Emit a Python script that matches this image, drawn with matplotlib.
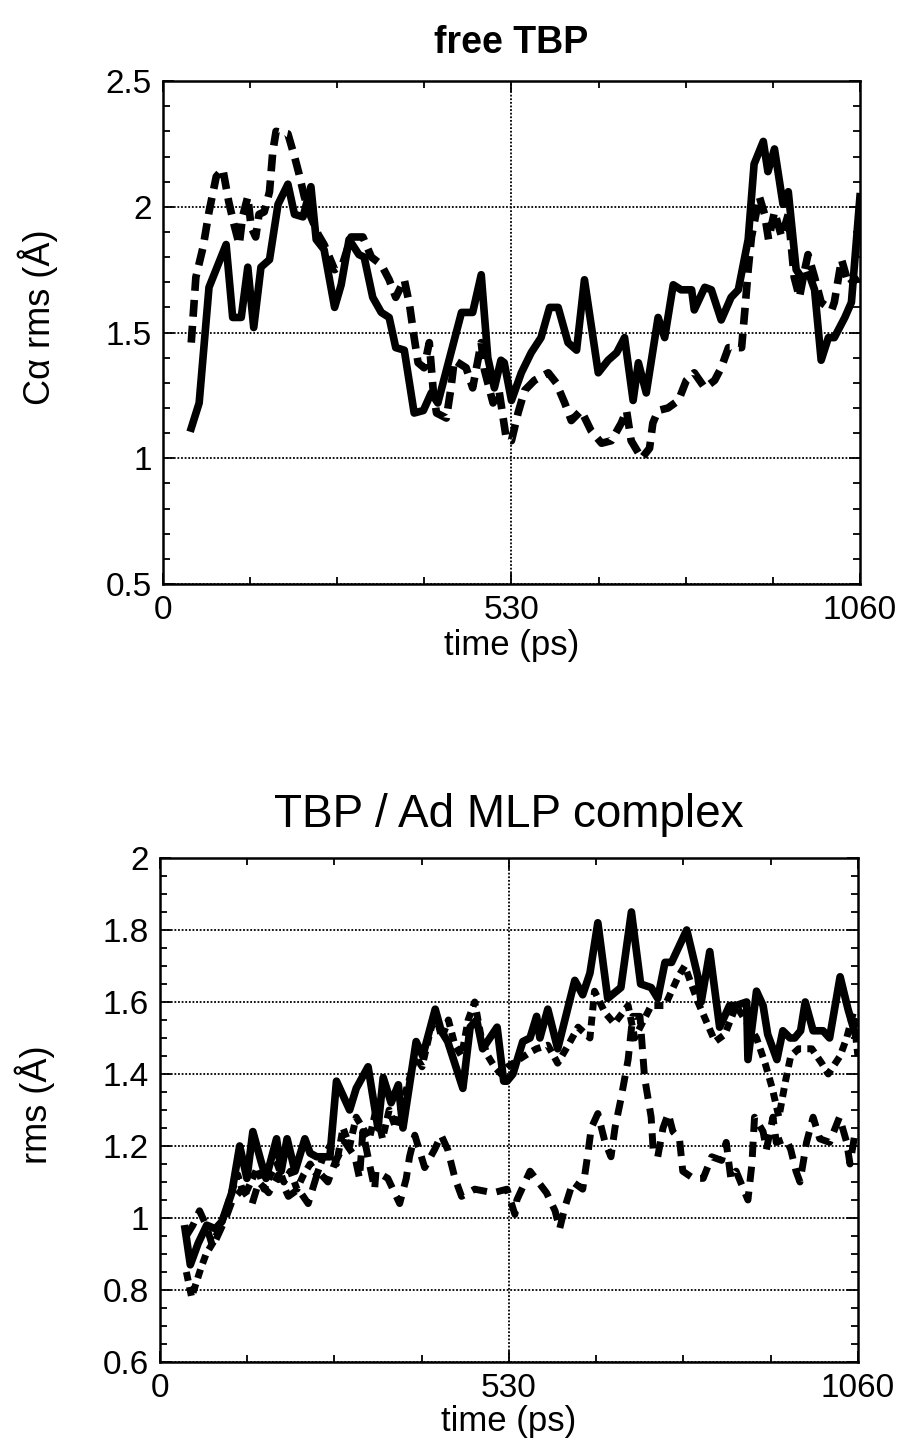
import matplotlib
matplotlib.use("Agg")
import matplotlib.pyplot as plt
from matplotlib.ticker import MultipleLocator

plt.rcParams['font.family'] = ['Liberation Sans', 'DejaVu Sans']

# free TBP, solid
free_t1 = [43, 55, 70, 96, 106, 119, 129, 138, 149, 162, 175, 190, 200, 213, 225,
           233, 245, 261, 271, 283, 298, 306, 319, 332, 344, 354, 367, 382, 396, 408,
           418, 454, 471, 484, 494, 504, 514, 519, 530, 545, 560, 575, 588, 601, 616,
           629, 641, 662, 677, 690, 702, 715, 723, 735, 753, 763, 776, 788, 804, 808,
           824, 834, 849, 864, 875, 890, 899, 913, 920, 930, 943, 951, 963, 971, 983,
           991, 1001, 1012, 1021, 1037, 1047, 1060]
free_v1 = [1.12, 1.22, 1.68, 1.85, 1.56, 1.56, 1.76, 1.52, 1.76, 1.79, 2.01, 2.09, 1.97, 1.96, 2.08,
           1.87, 1.83, 1.60, 1.69, 1.87, 1.81, 1.80, 1.64, 1.58, 1.56, 1.44, 1.43, 1.18, 1.19, 1.26,
           1.22, 1.58, 1.58, 1.73, 1.40, 1.28, 1.39, 1.38, 1.23, 1.34, 1.42, 1.48, 1.60, 1.60, 1.46,
           1.43, 1.71, 1.34, 1.39, 1.42, 1.48, 1.23, 1.38, 1.26, 1.56, 1.48, 1.69, 1.67, 1.67, 1.59,
           1.68, 1.67, 1.55, 1.64, 1.67, 1.87, 2.17, 2.26, 2.14, 2.23, 2.01, 2.06, 1.75, 1.72, 1.73,
           1.67, 1.39, 1.48, 1.48, 1.56, 1.62, 2.04]

# free TBP, dashed
free_t2 = [43, 50, 61, 70, 81, 91, 100, 108, 116, 121, 129, 134, 141, 146, 154,
           162, 167, 172, 190, 200, 207, 215, 225, 236, 245, 253, 261, 273, 286, 304,
           317, 332, 344, 354, 367, 375, 382, 388, 397, 405, 411, 416, 431, 438, 443,
           461, 471, 484, 489, 502, 511, 522, 530, 540, 550, 565, 586, 598, 611, 621,
           636, 651, 667, 682, 697, 705, 712, 728, 740, 745, 753, 768, 784, 796, 808,
           824, 839, 849, 860, 880, 885, 890, 895, 907, 915, 921, 930, 941, 951, 960,
           968, 976, 981, 991, 1001, 1017, 1021, 1032, 1043, 1058]
free_v2 = [1.46, 1.72, 1.84, 1.98, 2.12, 2.15, 2.02, 1.93, 1.85, 1.96, 2.04, 1.92, 1.88, 1.97, 1.98,
           2.06, 2.22, 2.30, 2.29, 2.20, 2.13, 2.04, 1.96, 1.89, 1.85, 1.80, 1.75, 1.77, 1.88, 1.88,
           1.80, 1.77, 1.71, 1.64, 1.71, 1.61, 1.48, 1.38, 1.36, 1.46, 1.27, 1.18, 1.16, 1.28, 1.39,
           1.36, 1.28, 1.46, 1.35, 1.22, 1.27, 1.08, 1.07, 1.18, 1.27, 1.31, 1.34, 1.30, 1.22, 1.15,
           1.19, 1.11, 1.06, 1.07, 1.14, 1.19, 1.07, 1.00, 1.04, 1.14, 1.19, 1.20, 1.23, 1.31, 1.34,
           1.28, 1.31, 1.36, 1.44, 1.44, 1.59, 1.75, 1.88, 2.04, 1.97, 1.87, 1.98, 1.88, 1.97, 1.72,
           1.64, 1.75, 1.81, 1.72, 1.62, 1.59, 1.62, 1.79, 1.69, 1.72]

# TBP / Ad MLP complex, solid
cplx_t1 = [38, 46, 58, 71, 84, 94, 109, 121, 132, 141, 153, 161, 177, 184, 193,
           205, 220, 228, 238, 258, 268, 278, 288, 298, 316, 331, 339, 351, 362, 369,
           384, 389, 399, 418, 427, 437, 460, 471, 481, 490, 512, 522, 527, 536, 551,
           562, 572, 577, 589, 604, 630, 642, 653, 665, 680, 700, 716, 730, 746, 756,
           767, 777, 800, 817, 822, 835, 850, 865, 875, 891, 893, 906, 916, 923, 937,
           946, 957, 964, 973, 980, 992, 1007, 1017, 1033, 1045, 1056]
cplx_v1 = [0.97, 0.87, 0.93, 0.98, 0.97, 0.99, 1.07, 1.20, 1.11, 1.24, 1.16, 1.11, 1.22, 1.13, 1.22,
           1.13, 1.22, 1.18, 1.17, 1.17, 1.38, 1.34, 1.30, 1.36, 1.42, 1.25, 1.39, 1.32, 1.37, 1.25,
           1.43, 1.49, 1.45, 1.58, 1.52, 1.49, 1.36, 1.53, 1.55, 1.47, 1.53, 1.38, 1.38, 1.40, 1.49,
           1.50, 1.56, 1.50, 1.58, 1.47, 1.66, 1.62, 1.68, 1.82, 1.61, 1.64, 1.85, 1.65, 1.64, 1.61,
           1.71, 1.71, 1.80, 1.67, 1.60, 1.74, 1.53, 1.59, 1.59, 1.60, 1.44, 1.63, 1.59, 1.51, 1.44,
           1.52, 1.50, 1.50, 1.52, 1.60, 1.52, 1.52, 1.50, 1.67, 1.58, 1.51]

# TBP / Ad MLP complex, short dashes
cplx_t2 = [40, 48, 55, 62, 70, 80, 90, 100, 110, 118, 128, 138, 148, 158, 168,
           178, 188, 198, 208, 218, 228, 238, 248, 258, 268, 278, 288, 298, 308, 318,
           328, 338, 348, 358, 368, 378, 388, 398, 408, 418, 428, 438, 448, 458, 468,
           478, 488, 498, 508, 518, 528, 545, 562, 572, 589, 604, 620, 635, 653, 660,
           676, 690, 711, 721, 746, 767, 787, 797, 817, 843, 858, 875, 906, 919, 930,
           940, 950, 958, 970, 990, 1005, 1015, 1033, 1043, 1053, 1060]
cplx_v2 = [0.85, 0.78, 0.82, 0.86, 0.90, 0.93, 0.97, 1.02, 1.08, 1.12, 1.06, 1.10, 1.14, 1.08, 1.12,
           1.15, 1.10, 1.13, 1.08, 1.12, 1.15, 1.12, 1.17, 1.20, 1.15, 1.25, 1.20, 1.28, 1.25, 1.22,
           1.30, 1.22, 1.30, 1.25, 1.32, 1.38, 1.45, 1.42, 1.50, 1.57, 1.50, 1.55, 1.48, 1.45, 1.55,
           1.60, 1.50, 1.45, 1.42, 1.40, 1.42, 1.44, 1.46, 1.47, 1.48, 1.43, 1.48, 1.53, 1.50, 1.63,
           1.57, 1.54, 1.59, 1.50, 1.59, 1.59, 1.67, 1.70, 1.60, 1.49, 1.51, 1.59, 1.50, 1.43, 1.36,
           1.28, 1.38, 1.45, 1.47, 1.47, 1.43, 1.40, 1.45, 1.50, 1.57, 1.45]

# TBP / Ad MLP complex, long dashes
cplx_t3 = [40, 50, 60, 70, 80, 90, 100, 110, 125, 140, 150, 165, 180, 195, 210,
           225, 240, 255, 265, 281, 296, 303, 308, 326, 328, 346, 364, 374, 379, 387,
           402, 417, 427, 437, 448, 458, 478, 506, 527, 539, 542, 562, 587, 600, 607,
           615, 627, 642, 650, 655, 665, 676, 685, 691, 700, 711, 718, 729, 736, 746,
           749, 756, 764, 772, 779, 789, 794, 810, 825, 838, 853, 860, 867, 875, 893,
           899, 903, 916, 921, 931, 936, 951, 958, 966, 972, 982, 992, 1002, 1017, 1032,
           1043, 1048, 1056]
cplx_v3 = [0.95, 0.98, 1.02, 0.98, 0.92, 0.96, 1.00, 1.05, 1.08, 1.04, 1.10, 1.07, 1.12, 1.06, 1.08,
           1.04, 1.13, 1.10, 1.15, 1.21, 1.17, 1.11, 1.24, 1.08, 1.13, 1.11, 1.04, 1.11, 1.17, 1.23,
           1.14, 1.19, 1.23, 1.19, 1.11, 1.06, 1.08, 1.07, 1.08, 1.01, 1.05, 1.13, 1.07, 1.02, 0.97,
           1.03, 1.10, 1.08, 1.18, 1.25, 1.29, 1.21, 1.17, 1.25, 1.33, 1.44, 1.56, 1.56, 1.39, 1.28,
           1.19, 1.17, 1.25, 1.29, 1.24, 1.22, 1.13, 1.11, 1.11, 1.17, 1.16, 1.21, 1.11, 1.13, 1.05,
           1.15, 1.28, 1.24, 1.19, 1.28, 1.21, 1.22, 1.19, 1.13, 1.10, 1.21, 1.28, 1.22, 1.21, 1.28,
           1.21, 1.15, 1.24]

x_ticks = [0, 530, 1060]
x_ticklabels = ['0', '530', '1060']


def fmt(v, pos):
    return ('%.1f' % v).rstrip('0').rstrip('.')


def style_axes(ax, ylim, ymajor, yminor, ylabel, ylab_x, ylab_y, xlab_y):
    ax.set_xlim(0, 1060)
    ax.set_ylim(*ylim)
    ax.set_xticks(x_ticks)
    ax.set_xticklabels(x_ticklabels)
    ax.xaxis.set_minor_locator(MultipleLocator(132.5))
    ax.yaxis.set_major_locator(MultipleLocator(ymajor))
    ax.yaxis.set_minor_locator(MultipleLocator(yminor))
    ax.yaxis.set_major_formatter(fmt)
    ax.tick_params(which='both', direction='in', top=True, right=True,
                   width=1.3, labelsize=24, pad=8)
    ax.tick_params(which='major', length=8)
    ax.tick_params(which='minor', length=5)
    ax.grid(axis='y', which='major', color='black', linestyle=(0, (1, 1)), linewidth=1.3)
    ax.axvline(530, color='black', linestyle=(0, (1, 1)), linewidth=1.3)
    for sp in ax.spines.values():
        sp.set_linewidth(1.8)
    ax.set_xlabel('time (ps)', fontsize=25)
    ax.xaxis.set_label_coords(0.5, xlab_y)
    ax.set_ylabel(ylabel, fontsize=26)
    ax.yaxis.set_label_coords(ylab_x, ylab_y)


fig = plt.figure(figsize=(8.97, 14.5), dpi=100)

ax1 = fig.add_axes([0.1817, 0.5972, 0.777, 0.3469])
ax1.plot(free_t1, free_v1, color='black', linewidth=5.5)
ax1.plot(free_t2, free_v2, color='black', linewidth=5.5, dashes=(2.2, 1.2))
style_axes(ax1, (0.5, 2.5), 0.5, 0.1, 'C\u03b1 rms (\u00c5)', -0.15, 0.53, -0.09)
ax1.set_title('free TBP', fontsize=27, fontweight='bold', pad=20)

ax2 = fig.add_axes([0.1784, 0.0607, 0.778, 0.3476])
ax2.plot(cplx_t3, cplx_v3, color='black', linewidth=5, dashes=(2.2, 1.4))
ax2.plot(cplx_t2, cplx_v2, color='black', linewidth=5, dashes=(1.3, 0.9))
ax2.plot(cplx_t1, cplx_v1, color='black', linewidth=5.5)
style_axes(ax2, (0.6, 2.0), 0.2, 0.05, 'rms (\u00c5)', -0.15, 0.51, -0.085)
ax2.set_title('TBP / Ad MLP complex', fontsize=33, pad=22)

fig.savefig('out.png', dpi=100)
